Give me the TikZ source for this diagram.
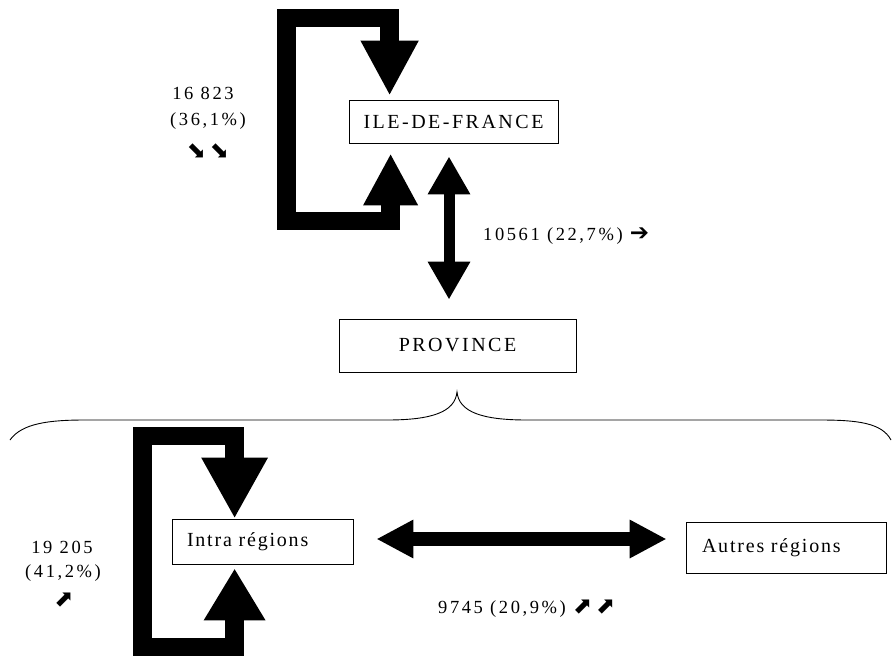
\documentclass[tikz,border=0pt]{standalone}
\usepackage{fontspec}
\setmainfont{Liberation Serif}[LetterSpace=14]
\newfontfamily\capsfont{Liberation Serif}[LetterSpace=12.5]
\newfontfamily\boxfont{Liberation Serif}[LetterSpace=9]
\newfontfamily\symfont{DejaVu Sans}
\usetikzlibrary{arrows.meta,calc}
\begin{document}
\begin{tikzpicture}[x=1pt,y=-1pt,
  every node/.style={font=\fontsize{18.5}{21}\selectfont},
  box/.style={draw,line width=0.8pt,inner sep=0pt},
  capsbox/.style={box,font=\capsfont\fontsize{20}{23}\selectfont},
  lowbox/.style={box,font=\boxfont\fontsize{20}{23}\selectfont},
  lab/.style={inner sep=0pt,anchor=center},
  sym/.style={font=\symfont\fontsize{23}{25}\selectfont},
  loopbar/.style={line width=18.5pt,line join=miter,line cap=butt},
  dblv/.style={line width=11pt,{Triangle[length=38pt,width=40pt]}-{Triangle[length=38pt,width=40pt]}},
  dblh/.style={line width=14pt,{Triangle[length=37pt,width=36pt]}-{Triangle[length=37pt,width=36pt]}}
]
\useasboundingbox (0,0) rectangle (894,657);

% nodes
\node[capsbox,minimum width=209pt,minimum height=43pt] (idf) at (453.5,121.5) {ILE-DE-FRANCE};
\node[capsbox,minimum width=237pt,minimum height=53pt] (prov) at (457.5,345.5) {PROVINCE};
\node[lowbox,minimum width=181pt,minimum height=45pt,text width=151pt,inner xsep=15pt,align=left] (intra) at (262.5,541.5) {Intra régions};
\node[lowbox,minimum width=200pt,minimum height=51pt,text width=168pt,inner xsep=16pt,align=left] (autres) at (786,547.5) {Autres régions};

% IDF self loop
\coordinate (a1) at ($(idf.south west)+(42,10)$);
\coordinate (a2) at ($(idf.north west)+(41,-4)$);
\draw[loopbar,{Triangle[length=52pt,width=51pt]}-{Triangle[length=55pt,width=54pt]}]
  (a1) -- (a1 |- 0,221) -- (286.5,221) -- (286.5,18) -- (a2 |- 0,18) -- (a2);

% IDF <-> Province
\draw[dblv] ([xshift=-4.5pt,yshift=-13pt]idf.south) -- ([xshift=-8.5pt,yshift=19pt]prov.north);

% brace
\draw[line width=0.9pt] (10,440) .. controls (22,423) and (50,420) .. (85,420) -- (387,420)
  .. controls (432,420) and (455,412) .. (457,392)
  .. controls (459,412) and (482,420) .. (527,420) -- (820,420)
  .. controls (858,420) and (882,423) .. (891,440);

% Intra self loop
\coordinate (b1) at ($(intra.north west)+(63,0)$);
\coordinate (b2) at ($(intra.south west)+(63,4)$);
\draw[loopbar,{Triangle[length=61pt,width=62pt]}-{Triangle[length=52pt,width=58pt]}]
  (b1) -- (b1 |- 0,436) -- (142.5,436) -- (142.5,647) -- (b2 |- 0,647) -- (b2);

% Intra <-> Autres
\draw[dblh] ([xshift=23pt,yshift=2.5pt]intra.east) -- ([xshift=-19pt,yshift=8.5pt]autres.west);

% labels
\node[lab] (l1) at (203,93) {16 823};
\node[lab] (l2) at (208,121) {(36,1\%)};
\node[lab,sym] (l3) at (208,151) {⬊\,⬊};
\node[lab,anchor=west] (l4) at (483,236) {10561 (22,7\%) {\symfont\fontsize{23}{25}\selectfont ➔}};
\node[lab] (l5) at (62,547) {19 205};
\node[lab] (l6) at (63,573) {(41,2\%)};
\node[lab,sym] (l7) at (64,600) {⬈};
\node[lab,anchor=west] (l8) at (438,609) {9745 (20,9\%) {\symfont\fontsize{23}{25}\selectfont ⬈\,⬈}};
\end{tikzpicture}
\end{document}
